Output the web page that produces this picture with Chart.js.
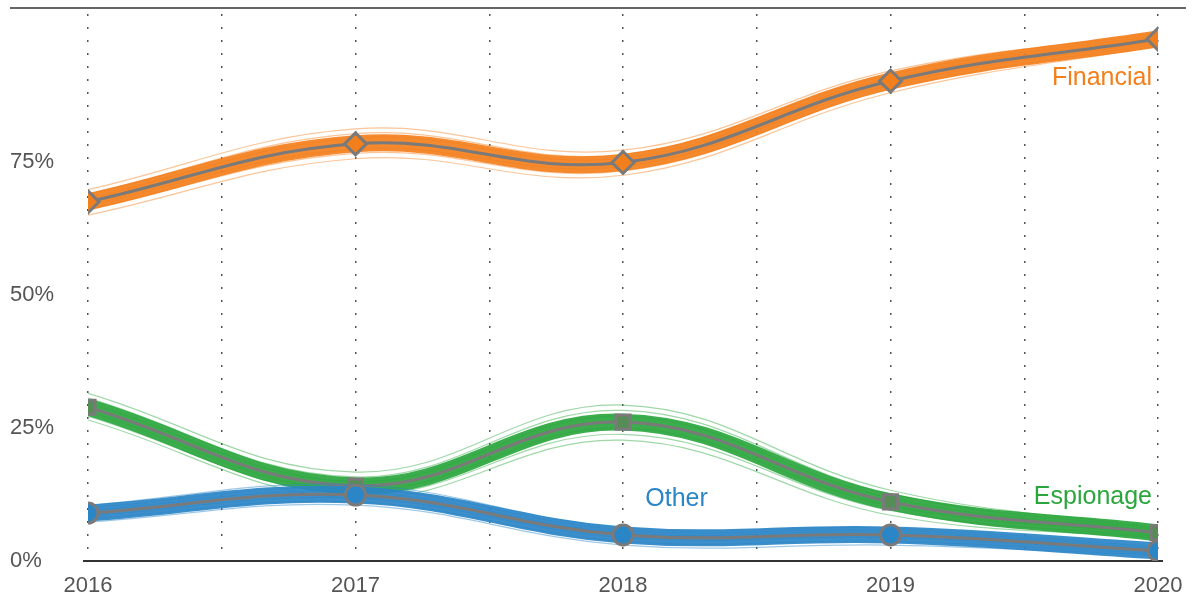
<!DOCTYPE html>
<html>
<head>
<meta charset="utf-8">
<script src="https://cdn.jsdelivr.net/npm/chart.js@4"></script>
<style>
  html, body { margin: 0; padding: 0; background: #fff; }
  #wrap { width: 1196px; height: 599px; }
</style>
</head>
<body>
<div id="wrap"><canvas id="chart" width="1196" height="599"></canvas></div>
<script>
const years = [2016, 2017, 2018, 2019, 2020];
const yTicks = [0, 25, 50, 75];

const financial = [67.5, 78.4, 74.9, 90.2, 98.1];
const espionage = [28.9, 14.1, 26.1, 11.1, 5.3];
const other = [9.0, 12.4, 4.9, 4.9, 1.9];

// a few of the thin resampled lines around each series
const financialSamples = [
    [69.8, 81.2, 77.2, 92.1, 99.2],
    [68.9, 80.3, 76.4, 91.4, 98.8],
    [68.1, 79.5, 75.7, 90.8, 98.4],
    [66.9, 77.4, 74.2, 89.5, 97.7],
    [66.1, 76.6, 73.3, 88.7, 97.3],
    [65.0, 75.6, 72.5, 88.0, 96.8]
];
const espionageSamples = [
    [31.5, 16.7, 29.3, 13.3, 6.2],
    [30.6, 15.8, 28.3, 12.6, 5.9],
    [29.7, 14.9, 27.2, 11.8, 5.6],
    [28.1, 13.3, 25.0, 10.4, 5.0],
    [27.2, 12.5, 23.8, 9.5, 4.6],
    [26.5, 11.8, 22.7, 8.6, 4.3]
];
const otherSamples = [
    [10.5, 14.3, 6.2, 6.2, 2.6],
    [10.0, 13.6, 5.8, 5.8, 2.3],
    [9.5, 13.0, 5.3, 5.4, 2.1],
    [8.5, 11.8, 4.4, 4.4, 1.7],
    [7.9, 11.1, 3.7, 3.7, 1.4],
    [7.3, 10.5, 3.0, 3.0, 1.1]
];

const GRAY = '#7a7a7a';
const ORANGE = '#f37f1c';
const GREEN = '#2aa63d';
const BLUE = '#2b86c7';

const pts = arr => arr.map((v, i) => ({ x: years[i], y: v }));

function seriesSets(name, values, samples, color, band, marker, markerFill, markerR, base) {
    const sets = [];
    sets.push({
        label: name,
        data: pts(values),
        borderColor: GRAY,
        borderWidth: 3,
        tension: 0.4,
        pointStyle: marker,
        pointRadius: markerR,
        pointBackgroundColor: markerFill,
        pointBorderColor: GRAY,
        pointBorderWidth: 3,
        order: base
    });
    sets.push({
        label: name + ' band',
        data: pts(values),
        borderColor: band,
        borderWidth: 17,
        tension: 0.4,
        pointRadius: 0,
        order: base + 1
    });
    samples.forEach(s => {
        sets.push({
            label: name + ' sample',
            data: pts(s),
            borderColor: color,
            borderWidth: 1.2,
            tension: 0.4,
            pointRadius: 0,
            order: base + 2
        });
    });
    return sets;
}

const datasets = [].concat(
    seriesSets('Other', other, otherSamples, 'rgba(43,134,199,0.45)', 'rgba(43,134,199,0.92)', 'circle', BLUE, 10, 1),
    seriesSets('Espionage', espionage, espionageSamples, 'rgba(42,166,61,0.45)', 'rgba(42,166,61,0.92)', 'rect', '#568c56', 10, 4),
    seriesSets('Financial', financial, financialSamples, 'rgba(243,127,28,0.45)', 'rgba(243,127,28,0.92)', 'rectRot', ORANGE, 11, 7)
);

const seriesLabels = [
    { text: 'Financial', color: ORANGE, x: 2020, y: 90.8 },
    { text: 'Espionage', color: GREEN, x: 2020, y: 12.1 },
    { text: 'Other', color: BLUE, x: 2018.2, y: 11.6 }
];

const decorations = {
    id: 'decorations',
    beforeDatasetsDraw(chart) {
        const c = chart.ctx, a = chart.chartArea;
        c.save();
        c.strokeStyle = '#333';
        c.lineWidth = 1.5;
        c.beginPath();
        c.moveTo(10, 8);
        c.lineTo(1186, 8);
        c.stroke();
        c.lineWidth = 2;
        c.beginPath();
        c.moveTo(a.left - 5, a.bottom);
        c.lineTo(a.right + 5, a.bottom);
        c.stroke();
        c.restore();
    },
    afterDatasetsDraw(chart) {
        const c = chart.ctx, xs = chart.scales.x, ys = chart.scales.y;
        c.save();
        c.font = '25px "Liberation Sans", Arial, sans-serif';
        c.textBaseline = 'middle';
        seriesLabels.forEach(l => {
            c.fillStyle = l.color;
            c.textAlign = l.text === 'Other' ? 'center' : 'right';
            const px = xs.getPixelForValue(l.x) - (l.text === 'Other' ? 0 : 6);
            c.fillText(l.text, px, ys.getPixelForValue(l.y));
        });
        c.restore();
    }
};

new Chart(document.getElementById('chart').getContext('2d'), {
    type: 'line',
    data: { datasets: datasets },
    options: {
        responsive: false,
        animation: false,
        layout: { padding: { left: 10, right: 38, top: 0, bottom: 0 } },
        plugins: { legend: { display: false }, tooltip: { enabled: false } },
        scales: {
            x: {
                type: 'linear',
                min: 2016,
                max: 2020,
                afterFit: s => { s.height = 38; s.paddingLeft = 0; s.paddingRight = 0; },
                border: { display: false, dash: [2, 11] },
                grid: { color: '#555', lineWidth: 1.5, drawTicks: false },
                ticks: {
                    stepSize: 0.5,
                    autoSkip: false,
                    maxRotation: 0,
                    padding: 12,
                    color: '#555',
                    font: { family: '"Liberation Sans", Arial, sans-serif', size: 22 },
                    callback: v => Number.isInteger(v) ? String(v) : ''
                }
            },
            y: {
                min: 0,
                max: 102.8,
                afterFit: s => { s.width = 78; s.paddingTop = 0; s.paddingBottom = 0; },
                afterBuildTicks: s => { s.ticks = yTicks.map(v => ({ value: v })); },
                border: { display: false },
                grid: { display: false },
                ticks: {
                    crossAlign: 'far',
                    color: '#555',
                    font: { family: '"Liberation Sans", Arial, sans-serif', size: 22 },
                    callback: v => v + '%'
                }
            }
        }
    },
    plugins: [decorations]
});
</script>
</body>
</html>
